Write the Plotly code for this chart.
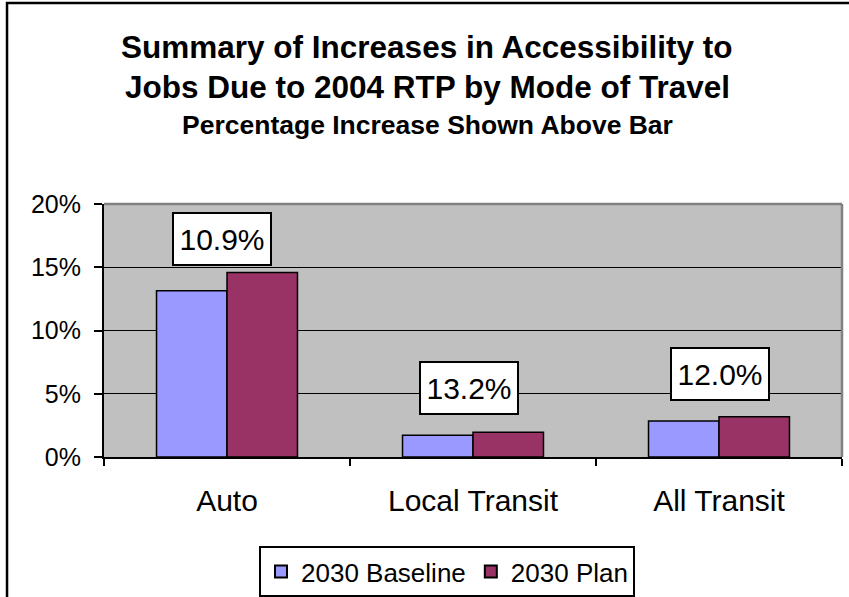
import plotly.graph_objects as go

categories = ["Auto", "Local Transit", "All Transit"]
baseline = [0.1315, 0.0172, 0.0285]
plan = [0.1458, 0.0195, 0.0319]
increase_labels = ["10.9%", "13.2%", "12.0%"]
series_names = ["2030 Baseline", "2030 Plan"]
y_ticks = [0, 0.05, 0.10, 0.15, 0.20]

FONT = "Liberation Sans, Arial, sans-serif"

fig = go.Figure()
fig.add_trace(go.Bar(x=categories, y=baseline, name=series_names[0],
                     marker=dict(color="#9999FF", line=dict(color="black", width=1.5))))
fig.add_trace(go.Bar(x=categories, y=plan, name=series_names[1],
                     marker=dict(color="#993366", line=dict(color="black", width=1.5))))

# label boxes above bars
label_xshift = [-5, -4, 1]
label_yshift = [7, 17, 16]
for i, c in enumerate(categories):
    fig.add_annotation(x=c, y=plan[i], xref="x", yref="y", text=increase_labels[i],
                       showarrow=False, yanchor="bottom", xanchor="center",
                       xshift=label_xshift[i], yshift=label_yshift[i],
                       font=dict(family=FONT, size=30, color="black"),
                       bgcolor="white", bordercolor="black", borderwidth=2,
                       borderpad=5, width=86, height=40)

# titles
fig.add_annotation(text="<b>Summary of Increases in Accessibility to</b>", x=0.4377, y=1.6206,
                   xref="paper", yref="paper", showarrow=False, xanchor="center", yanchor="middle",
                   font=dict(family=FONT, size=31.5, color="black"))
fig.add_annotation(text="<b>Jobs Due to 2004 RTP by Mode of Travel</b>", x=0.4377, y=1.4625,
                   xref="paper", yref="paper", showarrow=False, xanchor="center", yanchor="middle",
                   font=dict(family=FONT, size=31.5, color="black"))
fig.add_annotation(text="<b>Percentage Increase Shown Above Bar</b>", x=0.4377, y=1.312,
                   xref="paper", yref="paper", showarrow=False, xanchor="center", yanchor="middle",
                   font=dict(family=FONT, size=26.5, color="black"))

# outer chart border (cropped on right/bottom)
fig.add_shape(type="rect", xref="paper", yref="paper", x0=-0.1314, x1=1.3, y0=-1.0, y1=1.7945,
              line=dict(color="black", width=2.5), fillcolor="rgba(0,0,0,0)", layer="above")
# plot-area border top & right (gray)
fig.add_shape(type="line", xref="paper", yref="paper", x0=0, x1=1, y0=1, y1=1,
              line=dict(color="#808080", width=2.5), layer="above")
fig.add_shape(type="line", xref="paper", yref="paper", x0=1, x1=1, y0=0, y1=1,
              line=dict(color="#808080", width=2.5), layer="above")

fig.update_layout(
    width=849, height=597,
    margin=dict(l=104, r=7, t=204, b=140, autoexpand=False),
    paper_bgcolor="white", plot_bgcolor="#C0C0C0",
    barmode="group", bargap=0.427, bargroupgap=0,
    font=dict(family=FONT, color="black"),
    showlegend=True,
    legend=dict(orientation="h", xref="container", yref="container",
                x=259 / 849, y=1 - 546 / 597, xanchor="left", yanchor="top",
                bordercolor="black", borderwidth=2, bgcolor="white",
                font=dict(family=FONT, size=26, color="black"),
                itemsizing="constant", tracegroupgap=0),
    xaxis=dict(type="category", tickson="boundaries", ticks="outside", ticklen=7, tickwidth=2,
               tickcolor="black", showline=True, linecolor="black", linewidth=2,
               showgrid=False, tickfont=dict(family=FONT, size=30, color="black"),
               ticklabelstandoff=16),
    yaxis=dict(range=[0, 0.2], tickvals=y_ticks, tickformat=".0%", ticks="outside", ticklen=8,
               tickwidth=2, tickcolor="black", showline=True, linecolor="black", linewidth=2,
               showgrid=True, gridcolor="black", gridwidth=1, zeroline=False,
               tickfont=dict(family=FONT, size=25, color="black"), ticklabelstandoff=8),
)

fig.write_html("out.html")
